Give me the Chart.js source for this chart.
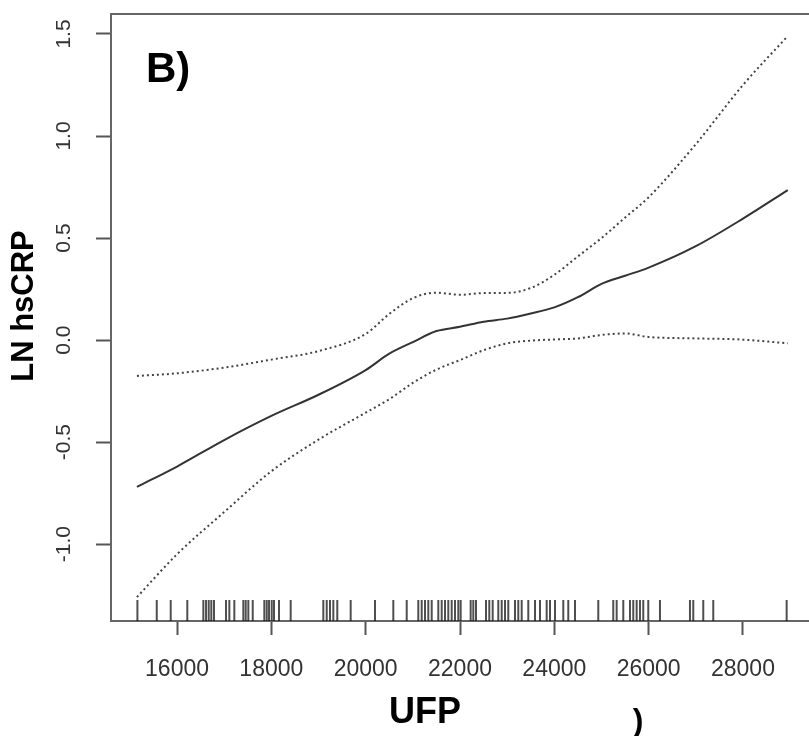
<!DOCTYPE html>
<html>
<head>
<meta charset="utf-8">
<script src="https://cdn.jsdelivr.net/npm/chart.js@4"></script>
<style>
  html, body { margin: 0; padding: 0; background: #fff; }
  #wrap { width: 809px; height: 736px; }
</style>
</head>
<body>
<div id="wrap"><canvas id="myChart" width="809" height="736"></canvas></div>
<script>
// tick labels
const xTicks = [16000, 18000, 20000, 22000, 24000, 26000, 28000];
const yTicks = [-1.0, -0.5, 0.0, 0.5, 1.0, 1.5];

// smooth fit (UFP vs LN hsCRP) with upper / lower bands
const ufp   = [15150, 16000, 17000, 18000, 19000, 20000, 20500, 21000, 21500, 22000, 22500,
               23000, 23500, 24000, 24500, 25000, 25500, 26000, 27000, 28000, 28950];
const fit   = [-0.72, -0.62, -0.49, -0.372, -0.268, -0.147, -0.067, -0.01, 0.044, 0.065, 0.09,
               0.105, 0.13, 0.16, 0.21, 0.275, 0.315, 0.355, 0.46, 0.595, 0.735];
const upper = [-0.176, -0.163, -0.135, -0.096, -0.054, 0.03, 0.128, 0.205, 0.232, 0.222, 0.23,
               0.231, 0.255, 0.32, 0.41, 0.5, 0.6, 0.7, 0.96, 1.25, 1.49];
const lower = [-1.26, -1.05, -0.843, -0.643, -0.488, -0.356, -0.29, -0.21, -0.145, -0.098, -0.05,
               -0.016, -0.003, 0.003, 0.008, 0.025, 0.032, 0.015, 0.008, 0.002, -0.016];

// rug: observed UFP values
const rugUfp = [15160, 15570, 15866, 16218, 16558, 16615, 16672, 16727, 16784, 17039, 17109,
                17215, 17406, 17456, 17512, 17605, 17851, 17902, 17950, 18008, 18056, 18162,
                18410, 19102, 19174, 19244, 19314, 19398, 19682, 20198, 20586, 20870, 21116,
                21188, 21258, 21328, 21400, 21540, 21612, 21682, 21752, 21824, 21894, 21964,
                22014, 22226, 22282, 22339, 22551, 22621, 22693, 22812, 22884, 22954, 23024,
                23166, 23236, 23308, 23448, 23590, 23696, 23838, 23908, 24014, 24190, 24296,
                24438, 24932, 25250, 25322, 25462, 25604, 25674, 25746, 25816, 25886, 25992,
                26240, 26876, 26946, 27158, 27370, 28926];

const X_MIN = 14600, X_MAX = 29400;
const Y_MIN = -1.377, Y_MAX = 1.598;
const FONT = '"Liberation Sans", Arial, sans-serif';

function pts(ys) {
    return ufp.map((x, i) => ({ x: x, y: ys[i] }));
}

const framePlugin = {
    id: 'frame',
    afterDraw(chart) {
        const ctx = chart.ctx;
        const area = chart.chartArea;
        const yScale = chart.scales.y;
        ctx.save();
        // top edge of the box
        ctx.strokeStyle = '#666';
        ctx.lineWidth = 2;
        ctx.beginPath();
        ctx.moveTo(area.left, area.top);
        ctx.lineTo(area.right, area.top);
        ctx.stroke();

        // rotated y tick labels
        ctx.fillStyle = '#333';
        ctx.font = '21px ' + FONT;
        ctx.textAlign = 'center';
        ctx.textBaseline = 'alphabetic';
        yScale.ticks.forEach(t => {
            const py = yScale.getPixelForValue(t.value);
            ctx.save();
            ctx.translate(70, py);
            ctx.rotate(-Math.PI / 2);
            ctx.fillText(t.value.toFixed(1), 0, 0);
            ctx.restore();
        });

        // axis titles
        ctx.fillStyle = '#000';
        ctx.font = 'bold 31px ' + FONT;
        ctx.save();
        ctx.translate(33, 306);
        ctx.rotate(-Math.PI / 2);
        ctx.fillText('LN hsCRP', 0, 0);
        ctx.restore();
        ctx.font = 'bold 36px ' + FONT;
        ctx.fillText('UFP', 425, 723);

        // panel label and stray bracket
        ctx.textAlign = 'left';
        ctx.font = 'bold 42px ' + FONT;
        ctx.fillText('B)', 146, 82);
        ctx.textAlign = 'center';
        ctx.font = 'bold 32px ' + FONT;
        ctx.fillText(')', 638, 731);
        ctx.restore();
    }
};

function createChart() {
    const ctx = document.getElementById('myChart').getContext('2d');
    const rugY = Y_MIN + 10.5 / 204;
    new Chart(ctx, {
        type: 'scatter',
        data: {
            datasets: [{
                label: 'fit',
                data: pts(fit),
                showLine: true,
                borderColor: '#333',
                borderWidth: 2,
                pointRadius: 0,
                cubicInterpolationMode: 'monotone'
            }, {
                label: 'upper',
                data: pts(upper),
                showLine: true,
                borderColor: '#444',
                borderWidth: 2,
                borderDash: [2, 3],
                pointRadius: 0,
                cubicInterpolationMode: 'monotone'
            }, {
                label: 'lower',
                data: pts(lower),
                showLine: true,
                borderColor: '#444',
                borderWidth: 2,
                borderDash: [2, 3],
                pointRadius: 0,
                cubicInterpolationMode: 'monotone'
            }, {
                label: 'rug',
                data: rugUfp.map(v => ({ x: v, y: rugY })),
                showLine: false,
                pointStyle: 'line',
                rotation: 90,
                pointRadius: 10.5,
                pointBorderWidth: 2,
                pointBorderColor: 'rgba(20,20,20,0.75)',
                pointBackgroundColor: 'rgba(20,20,20,0.75)'
            }]
        },
        options: {
            responsive: false,
            animation: false,
            layout: { autoPadding: false, padding: { top: 14, right: 0, bottom: 0, left: 0 } },
            plugins: {
                legend: { display: false },
                tooltip: { enabled: false }
            },
            scales: {
                x: {
                    type: 'linear',
                    min: X_MIN,
                    max: X_MAX,
                    afterBuildTicks: s => { s.ticks = xTicks.map(v => ({ value: v })); },
                    afterFit: s => { s.height = 115; s.paddingLeft = 0; s.paddingRight = 0; },
                    ticks: {
                        autoSkip: false,
                        maxRotation: 0,
                        padding: 21,
                        color: '#333',
                        font: { family: FONT, size: 23 },
                        callback: v => String(v)
                    },
                    grid: {
                        drawOnChartArea: false,
                        drawTicks: true,
                        tickLength: 14,
                        tickColor: '#555',
                        tickWidth: 2
                    },
                    border: { color: '#666', width: 2 }
                },
                y: {
                    type: 'linear',
                    min: Y_MIN,
                    max: Y_MAX,
                    afterBuildTicks: s => { s.ticks = yTicks.map(v => ({ value: v })); },
                    afterFit: s => { s.width = 111; s.paddingTop = 0; s.paddingBottom = 0; },
                    ticks: { display: false },
                    grid: {
                        drawOnChartArea: false,
                        drawTicks: true,
                        tickLength: 15,
                        tickColor: '#555',
                        tickWidth: 2
                    },
                    border: { color: '#666', width: 2 }
                }
            }
        },
        plugins: [framePlugin]
    });
}

createChart();
</script>
</body>
</html>
